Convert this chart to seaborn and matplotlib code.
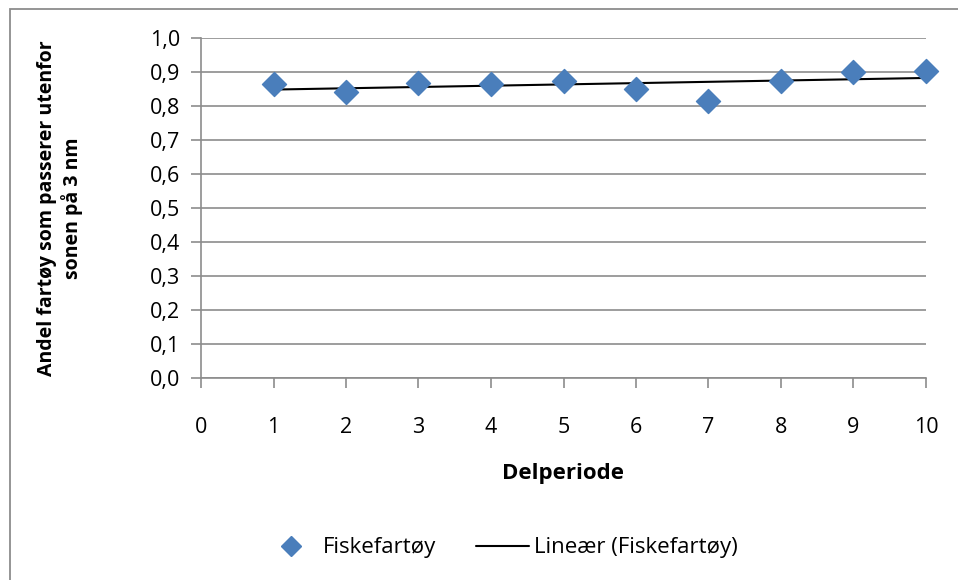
import numpy as np
import pandas as pd
import matplotlib
matplotlib.use("Agg")
import matplotlib.pyplot as plt
import seaborn as sns
from matplotlib.patches import Rectangle
from matplotlib.lines import Line2D

periods = [1, 2, 3, 4, 5, 6, 7, 8, 9, 10]
andel = [0.864, 0.840, 0.869, 0.865, 0.874, 0.849, 0.816, 0.874, 0.899, 0.904]
series_name = "Fiskefartøy"
trend_name = "Lineær (Fiskefartøy)"
y_ticks = [0.0, 0.1, 0.2, 0.3, 0.4, 0.5, 0.6, 0.7, 0.8, 0.9, 1.0]
x_ticks = [0, 1, 2, 3, 4, 5, 6, 7, 8, 9, 10]

df = pd.DataFrame({"Delperiode": periods, "Andel": andel})

sns.set_theme(style="white")
plt.rcParams['font.family'] = ['Open Sans', 'DejaVu Sans']
plt.rcParams['text.color'] = 'black'
plt.rcParams['axes.labelcolor'] = 'black'

fig = plt.figure(figsize=(9.58, 5.8), dpi=100)
W, H = 958, 580
ax = fig.add_axes([201 / W, 1 - 378 / H, (926 - 201) / W, (378 - 38) / H])

# outer frame
fig.patches.append(Rectangle((9.5 / W, -0.1), 1.2, 1 - 9.5 / H + 0.1,
                             transform=fig.transFigure, fill=False,
                             edgecolor="#8c8c8c", linewidth=1.3))

# trend line (linear fit)
coef = np.polyfit(periods, andel, 1)
xs = np.array([periods[0], periods[-1]])
trend = pd.DataFrame({"x": xs, "y": np.polyval(coef, xs)})
sns.lineplot(data=trend, x="x", y="y", ax=ax, color="black", linewidth=1.5, zorder=3)

sns.scatterplot(data=df, x="Delperiode", y="Andel", ax=ax, marker="D", s=150,
                color="#4a7ebb", edgecolor="#4a7ebb", zorder=4, clip_on=False)

ax.set_xlim(0, 10)
ax.set_ylim(0, 1.0)
ax.set_yticks(y_ticks)
ax.set_yticklabels([f"{v:.1f}".replace(".", ",") for v in y_ticks])
ax.set_xticks(x_ticks)
ax.set_xticklabels([str(v) for v in x_ticks])
ax.grid(axis="y", color="#8c8c8c", linewidth=1.2)
ax.set_axisbelow(True)
for s in ["top", "right"]:
    ax.spines[s].set_visible(False)
for s in ["left", "bottom"]:
    ax.spines[s].set_color("#8c8c8c")
    ax.spines[s].set_linewidth(1.2)
ax.tick_params(axis="both", which="both", direction="out", length=7, width=1.2,
               color="#8c8c8c", labelsize=15.5, labelcolor="black")
ax.tick_params(axis="x", pad=21, bottom=True)
ax.tick_params(axis="y", pad=8, left=True)

ax.set_xlabel("Delperiode", fontsize=16, fontweight="bold")
ax.xaxis.set_label_coords(0.5, -(474 - 378) / 340)
ax.xaxis.label.set_va("center")
ax.set_ylabel("Andel fartøy som passerer utenfor\nsonen på 3 nm", fontsize=14,
              fontweight="bold", linespacing=1.25)
ax.yaxis.set_label_coords(-(201 - 83) / 725, 0.5)

handles = [
    Line2D([0], [0], marker="D", linestyle="none", color="#4a7ebb", markersize=10),
    Line2D([0], [0], color="black", linewidth=1.5),
]
fig.legend(handles, [series_name, trend_name], loc="center",
           bbox_to_anchor=(501 / W, 1 - 548 / H), ncol=2, frameon=False,
           fontsize=16, handlelength=2.4, columnspacing=1.8, handletextpad=0.2)

fig.savefig("out.png", dpi=100)
